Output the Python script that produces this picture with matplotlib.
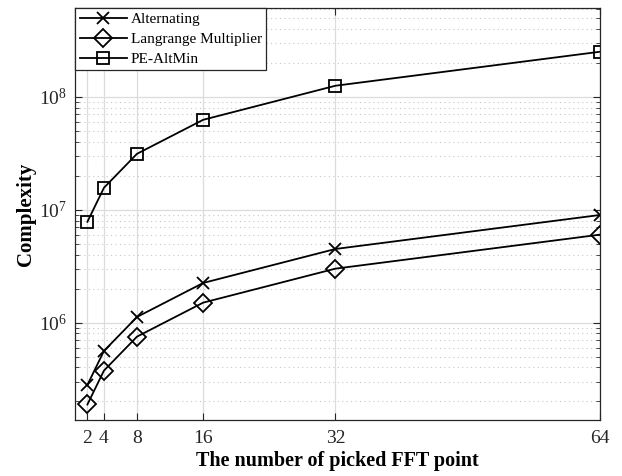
import matplotlib
matplotlib.use('Agg')
import matplotlib.pyplot as plt
from matplotlib.ticker import LogLocator, NullLocator, FixedLocator

plt.rcParams['font.family'] = ['Liberation Serif', 'DejaVu Serif']
plt.rcParams['mathtext.fontset'] = 'custom'
plt.rcParams['mathtext.rm'] = 'Liberation Serif'

# picked FFT points
fft_points = [2, 4, 8, 16, 32, 64]

# complexity for each method
alternating = [2.8e5, 5.6e5, 1.12e6, 2.24e6, 4.48e6, 8.96e6]
lagrange = [1.88e5, 3.75e5, 7.5e5, 1.5e6, 3.0e6, 6.0e6]
pe_altmin = [7.8e6, 1.56e7, 3.12e7, 6.24e7, 1.25e8, 2.5e8]

labels = ['Alternating', 'Langrange Multiplier', 'PE-AltMin']

fig = plt.figure(figsize=(6.22, 4.76), dpi=100)
ax = fig.add_axes([75 / 622, 1 - 420 / 476, 525 / 622, 412 / 476])

ax.plot(fft_points, alternating, color='k', lw=1.3, marker='x', ms=8,
        mew=1.3, label=labels[0])
ax.plot(fft_points, lagrange, color='k', lw=1.3, marker='D', ms=9,
        mew=1.3, mfc='none', label=labels[1])
ax.plot(fft_points, pe_altmin, color='k', lw=1.3, marker='s', ms=9,
        mew=1.3, mfc='none', label=labels[2])

ax.set_yscale('log')
ax.set_xlim(0.5, 64)
ax.set_ylim(1.37e5, 6.1e8)

ax.xaxis.set_major_locator(FixedLocator(fft_points))
ax.xaxis.set_minor_locator(NullLocator())
ax.yaxis.set_major_locator(LogLocator(base=10, numticks=10))
ax.yaxis.set_minor_locator(LogLocator(base=10, subs=range(2, 10), numticks=20))

ax.grid(True, which='major', color='#dcdcdc', lw=0.9, ls='-')
ax.grid(True, which='minor', axis='y', color='#c8c8c8', lw=0.8, ls=(0, (1, 3)))
ax.set_axisbelow(True)

ax.tick_params(which='both', direction='in', top=True, right=True,
               color='#262626', labelsize=14, labelcolor='#262626')
ax.tick_params(which='major', length=5)
ax.tick_params(axis='x', which='major', pad=7)
ax.tick_params(axis='y', which='major', pad=6)
ax.tick_params(which='minor', length=3)
for s in ax.spines.values():
    s.set_color('#262626')
    s.set_linewidth(0.9)

ax.set_xlabel('The number of picked FFT point', fontsize=14.5, fontweight='bold',
              labelpad=3)
ax.set_ylabel('Complexity', fontsize=15, fontweight='bold', labelpad=2)

leg = ax.legend(loc='upper left', fontsize=11, fancybox=False,
                edgecolor='#262626', framealpha=1, borderaxespad=0,
                handlelength=3.1, handletextpad=0.25, labelspacing=0.4,
                borderpad=0.3)
leg.get_frame().set_linewidth(0.9)

fig.savefig('out.png', dpi=100)
